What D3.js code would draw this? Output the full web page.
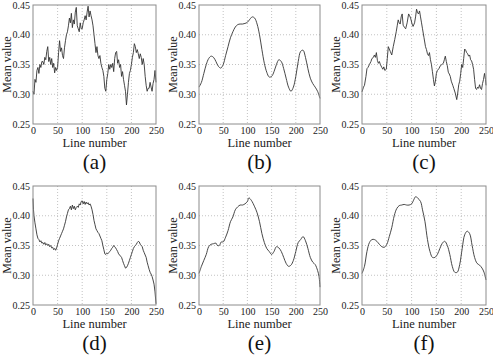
<!DOCTYPE html>
<html><head><meta charset="utf-8">
<script src="https://cdn.jsdelivr.net/npm/d3@7"></script>
<style>
html,body{margin:0;padding:0;background:#fff;}
</style></head>
<body><svg id="c" width="493" height="355"></svg>
<script>
const xTicks = [0, 50, 100, 150, 200, 250];
const yTicks = [0.25, 0.30, 0.35, 0.40, 0.45];
const yTickLabels = ["0.25", "0.30", "0.35", "0.40", "0.45"];
const panelLabels = ["(a)", "(b)", "(c)", "(d)", "(e)", "(f)"];
const xLabel = "Line number";
const yLabel = "Mean value";

const seriesA = [[0,0.305],[2,0.30],[4,0.325],[6,0.32],[8,0.34],[10,0.345],[12,0.335],[14,0.35],[16,0.345],[18,0.355],[20,0.355],[22,0.35],[24,0.362],[26,0.358],[28,0.372],[30,0.38],[32,0.355],[34,0.362],[36,0.35],[38,0.36],[40,0.345],[42,0.352],[44,0.336],[46,0.345],[48,0.34],[50,0.345],[52,0.37],[54,0.39],[56,0.372],[58,0.378],[60,0.365],[62,0.36],[64,0.378],[66,0.39],[68,0.40],[70,0.405],[72,0.415],[74,0.428],[76,0.42],[78,0.436],[80,0.412],[82,0.425],[84,0.418],[86,0.438],[88,0.446],[90,0.415],[92,0.41],[94,0.405],[96,0.42],[98,0.41],[100,0.41],[102,0.42],[104,0.425],[106,0.432],[108,0.425],[110,0.438],[112,0.448],[114,0.43],[116,0.44],[118,0.432],[120,0.425],[122,0.415],[124,0.40],[126,0.385],[128,0.37],[130,0.38],[132,0.365],[134,0.36],[136,0.365],[138,0.352],[140,0.345],[142,0.34],[144,0.33],[146,0.31],[148,0.305],[150,0.325],[152,0.335],[154,0.35],[156,0.342],[158,0.35],[160,0.345],[162,0.352],[164,0.338],[166,0.36],[168,0.37],[170,0.372],[172,0.352],[174,0.358],[176,0.345],[178,0.35],[180,0.33],[182,0.338],[184,0.325],[186,0.315],[188,0.305],[190,0.282],[192,0.30],[194,0.32],[196,0.335],[198,0.34],[200,0.35],[202,0.362],[204,0.37],[206,0.385],[208,0.38],[210,0.37],[212,0.375],[214,0.368],[216,0.36],[218,0.368],[220,0.362],[222,0.35],[224,0.36],[226,0.35],[228,0.33],[230,0.315],[232,0.305],[234,0.31],[236,0.31],[238,0.32],[240,0.312],[242,0.305],[244,0.318],[246,0.325],[248,0.34],[250,0.32]];

const seriesB = [[0,0.312],[5,0.32],[10,0.335],[15,0.35],[20,0.36],[25,0.364],[30,0.362],[35,0.355],[40,0.347],[45,0.344],[50,0.35],[55,0.365],[60,0.38],[65,0.395],[70,0.405],[75,0.413],[80,0.417],[85,0.418],[90,0.418],[95,0.419],[100,0.421],[105,0.426],[110,0.43],[115,0.428],[120,0.418],[125,0.40],[130,0.375],[135,0.352],[140,0.337],[145,0.329],[150,0.33],[155,0.338],[160,0.35],[165,0.358],[170,0.355],[175,0.343],[180,0.327],[185,0.312],[190,0.305],[195,0.312],[200,0.33],[205,0.355],[210,0.372],[215,0.374],[220,0.362],[225,0.343],[230,0.327],[235,0.318],[240,0.312],[245,0.305],[250,0.293]];

const seriesC = [[0,0.304],[3,0.312],[5,0.315],[8,0.33],[10,0.343],[12,0.345],[15,0.35],[18,0.355],[20,0.36],[23,0.362],[25,0.366],[27,0.362],[29,0.37],[31,0.357],[33,0.352],[35,0.355],[37,0.35],[40,0.345],[42,0.342],[44,0.346],[46,0.34],[49,0.342],[51,0.36],[53,0.38],[55,0.376],[57,0.372],[60,0.366],[63,0.38],[66,0.392],[69,0.405],[71,0.415],[73,0.425],[75,0.42],[77,0.418],[79,0.43],[81,0.435],[83,0.416],[86,0.412],[88,0.41],[91,0.42],[94,0.435],[96,0.432],[98,0.428],[101,0.418],[103,0.414],[106,0.42],[108,0.43],[110,0.443],[112,0.437],[114,0.435],[116,0.44],[118,0.43],[120,0.42],[122,0.41],[125,0.395],[128,0.38],[130,0.375],[132,0.368],[134,0.365],[136,0.37],[138,0.358],[140,0.35],[142,0.338],[144,0.325],[146,0.314],[148,0.322],[150,0.335],[152,0.34],[155,0.343],[158,0.348],[161,0.35],[164,0.352],[166,0.358],[168,0.364],[170,0.355],[172,0.348],[174,0.337],[176,0.334],[178,0.33],[180,0.322],[183,0.315],[185,0.31],[188,0.302],[191,0.291],[193,0.302],[195,0.316],[197,0.322],[199,0.335],[201,0.35],[203,0.345],[205,0.36],[207,0.376],[209,0.374],[211,0.37],[213,0.368],[215,0.364],[217,0.366],[219,0.358],[221,0.356],[223,0.35],[225,0.342],[227,0.325],[229,0.31],[231,0.308],[233,0.312],[235,0.31],[237,0.316],[239,0.31],[241,0.308],[243,0.318],[245,0.325],[247,0.335],[249,0.325],[250,0.315]];

const seriesD = [[0,0.429],[1,0.41],[2,0.40],[4,0.388],[6,0.378],[8,0.368],[10,0.362],[12,0.36],[14,0.356],[16,0.358],[18,0.354],[20,0.355],[22,0.352],[24,0.355],[26,0.351],[28,0.353],[30,0.35],[32,0.352],[34,0.348],[36,0.35],[38,0.346],[40,0.347],[42,0.343],[44,0.345],[46,0.342],[48,0.346],[50,0.352],[52,0.358],[54,0.362],[56,0.366],[58,0.37],[60,0.374],[62,0.378],[64,0.384],[66,0.39],[68,0.398],[70,0.404],[72,0.41],[74,0.412],[76,0.416],[78,0.41],[80,0.418],[82,0.412],[84,0.416],[86,0.41],[88,0.414],[90,0.416],[92,0.414],[94,0.42],[96,0.418],[98,0.424],[100,0.425],[102,0.42],[104,0.424],[106,0.419],[108,0.423],[110,0.42],[112,0.422],[114,0.418],[116,0.42],[118,0.416],[120,0.41],[122,0.402],[124,0.392],[126,0.385],[128,0.378],[130,0.375],[132,0.372],[134,0.37],[136,0.366],[138,0.362],[140,0.358],[142,0.35],[144,0.343],[146,0.336],[148,0.335],[150,0.337],[152,0.336],[154,0.338],[156,0.34],[158,0.342],[160,0.345],[162,0.347],[164,0.35],[166,0.348],[168,0.346],[170,0.343],[172,0.34],[174,0.336],[176,0.334],[178,0.332],[180,0.33],[182,0.325],[184,0.32],[186,0.316],[188,0.312],[190,0.313],[192,0.316],[194,0.32],[196,0.325],[198,0.33],[200,0.335],[202,0.34],[204,0.345],[206,0.348],[208,0.35],[210,0.352],[212,0.355],[214,0.357],[216,0.356],[218,0.352],[220,0.35],[222,0.348],[224,0.342],[226,0.338],[228,0.334],[230,0.33],[232,0.322],[234,0.316],[236,0.31],[238,0.305],[240,0.302],[242,0.298],[244,0.292],[246,0.285],[248,0.272],[250,0.252]];

const seriesE = [[0,0.303],[5,0.315],[10,0.325],[15,0.335],[20,0.348],[25,0.352],[30,0.353],[35,0.354],[38,0.35],[42,0.35],[46,0.356],[50,0.356],[55,0.364],[60,0.375],[65,0.39],[70,0.398],[75,0.41],[80,0.415],[85,0.418],[90,0.418],[95,0.42],[100,0.424],[103,0.43],[108,0.426],[115,0.415],[120,0.405],[125,0.39],[130,0.37],[135,0.355],[140,0.345],[145,0.34],[150,0.335],[155,0.34],[160,0.348],[165,0.346],[170,0.34],[175,0.33],[180,0.32],[185,0.315],[190,0.317],[195,0.325],[200,0.34],[205,0.355],[210,0.36],[215,0.365],[220,0.358],[225,0.345],[230,0.33],[235,0.322],[240,0.318],[245,0.308],[248,0.298],[250,0.28]];

const seriesF = [[0,0.303],[5,0.315],[10,0.34],[15,0.355],[20,0.36],[25,0.36],[30,0.357],[35,0.352],[40,0.348],[45,0.347],[50,0.352],[55,0.365],[60,0.38],[65,0.40],[70,0.412],[75,0.417],[80,0.418],[85,0.419],[90,0.418],[95,0.418],[100,0.42],[105,0.428],[108,0.432],[112,0.43],[118,0.424],[122,0.41],[127,0.39],[132,0.36],[137,0.34],[142,0.33],[147,0.33],[152,0.335],[157,0.345],[163,0.355],[167,0.357],[172,0.35],[177,0.335],[182,0.315],[187,0.305],[192,0.305],[197,0.318],[202,0.345],[207,0.368],[212,0.374],[217,0.37],[222,0.35],[227,0.33],[232,0.32],[237,0.317],[242,0.312],[246,0.305],[250,0.292]];

const allSeries = [seriesA, seriesB, seriesC, seriesD, seriesE, seriesF];
const smooth = [false, true, false, false, true, true];
const FONT = "'Liberation Serif'";

const svg = d3.select("#c");
const colX = [[33,156],[199,320],[362,486]];
const rowY = [[5,124],[186,305]];

allSeries.forEach((data, i) => {
  const col = i % 3, row = Math.floor(i / 3);
  const [x0, x1] = colX[col];
  const [y0, y1] = rowY[row];
  const x = d3.scaleLinear().domain([0, 250]).range([x0, x1]);
  const y = d3.scaleLinear().domain([0.25, 0.45]).range([y1, y0]);
  const g = svg.append("g");

  g.selectAll(".gx").data(xTicks.slice(1, -1)).enter().append("line")
    .attr("x1", d => x(d)).attr("x2", d => x(d)).attr("y1", y0).attr("y2", y1)
    .attr("stroke", "#b4b4b4").attr("stroke-width", 0.8).attr("stroke-dasharray", "1,2");
  g.selectAll(".gy").data(yTicks.slice(1, -1)).enter().append("line")
    .attr("x1", x0).attr("x2", x1).attr("y1", d => y(d)).attr("y2", d => y(d))
    .attr("stroke", "#b4b4b4").attr("stroke-width", 0.8).attr("stroke-dasharray", "1,2");

  const line = d3.line().x(d => x(d[0])).y(d => y(d[1]))
    .curve(smooth[i] ? d3.curveCatmullRom.alpha(0.5) : d3.curveLinear);
  g.append("path").datum(data).attr("d", line)
    .attr("fill", "none").attr("stroke", "#333").attr("stroke-width", 0.9);

  g.append("rect").attr("x", x0).attr("y", y0).attr("width", x1 - x0).attr("height", y1 - y0)
    .attr("fill", "none").attr("stroke", "#8c8c8c").attr("stroke-width", 1);

  const xa = d3.axisBottom(x).tickValues(xTicks).tickSize(0).tickPadding(3);
  const ya = d3.axisLeft(y).tickValues(yTicks).tickFormat((d, k) => yTickLabels[k]).tickSize(0).tickPadding(3);
  const gx = g.append("g").attr("transform", `translate(0,${y1})`).call(xa);
  const gy = g.append("g").attr("transform", `translate(${x0},0)`).call(ya);
  [gx, gy].forEach(a => {
    a.attr("font-family", null).attr("font-size", null);
    a.select(".domain").remove();
    a.selectAll("text").style("font-family", FONT).style("font-size", "10px").attr("fill", "#222");
  });

  g.append("text").attr("x", (x0 + x1) / 2).attr("y", y1 + 23)
    .style("font-family", FONT).style("font-size", "12.5px")
    .attr("text-anchor", "middle").attr("fill", "#222").text(xLabel);
  g.append("text").attr("transform", `translate(${x0 - 22.5},${(y0 + y1) / 2}) rotate(-90)`)
    .style("font-family", FONT).style("font-size", "12px")
    .attr("text-anchor", "middle").attr("fill", "#222").text(yLabel);
  g.append("text").attr("x", (x0 + x1) / 2).attr("y", y1 + 45)
    .style("font-family", FONT).style("font-size", "21px")
    .attr("text-anchor", "middle").attr("fill", "#111").text(panelLabels[i]);
});
</script></body></html>
